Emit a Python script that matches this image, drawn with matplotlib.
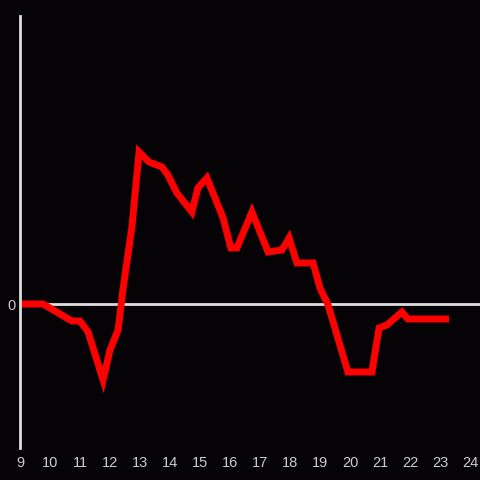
import matplotlib
matplotlib.use('Agg')
import matplotlib.pyplot as plt

# hour of day and value (arbitrary units, 0 = baseline)
hours = [9.0, 9.77, 10.73, 11.0, 11.27, 11.77, 12.0, 12.27, 12.43, 12.73,
         12.97, 13.3, 13.73, 13.93, 14.23, 14.73, 14.93, 15.23, 15.77, 16.03,
         16.23, 16.73, 17.27, 17.73, 17.97, 18.23, 18.77, 19.0, 19.27, 19.93,
         20.73, 20.97, 21.23, 21.73, 21.93, 23.3]
values = [0, 0, -17, -17, -28, -76, -46, -26, 14, 77,
          152, 142, 137, 129, 111, 92, 116, 126, 86, 56,
          56, 92, 52, 54, 66, 41, 41, 16, -1, -68,
          -68, -24, -21, -8, -15, -15]

xticks = list(range(9, 25))

plt.rcParams['font.family'] = ['Liberation Sans', 'DejaVu Sans']

fig = plt.figure(figsize=(4.8, 4.8), dpi=100)
bg = '#050306'
fig.patch.set_facecolor(bg)
ax = fig.add_axes([20 / 480, 32 / 480, 460 / 480, 432 / 480])
ax.set_facecolor(bg)

ax.axhline(0, color='#dddddd', lw=2, zorder=1)
ax.plot(hours, values, color='#ff0000', lw=5, zorder=2,
        solid_capstyle='butt', solid_joinstyle='miter')

ax.set_xlim(9, 24 + 10 / 30)
ax.set_ylim(-144, 288)
ax.set_xticks(xticks)
ax.set_yticks([0])
ax.tick_params(colors='#cccccc', labelsize=10.5, length=0)
ax.tick_params(axis='x', pad=6)
ax.tick_params(axis='y', pad=3)

for s in ['top', 'right', 'bottom']:
    ax.spines[s].set_visible(False)
ax.spines['left'].set_color('#dddddd')
ax.spines['left'].set_linewidth(2)

fig.savefig('out.png', dpi=100, facecolor=bg)
